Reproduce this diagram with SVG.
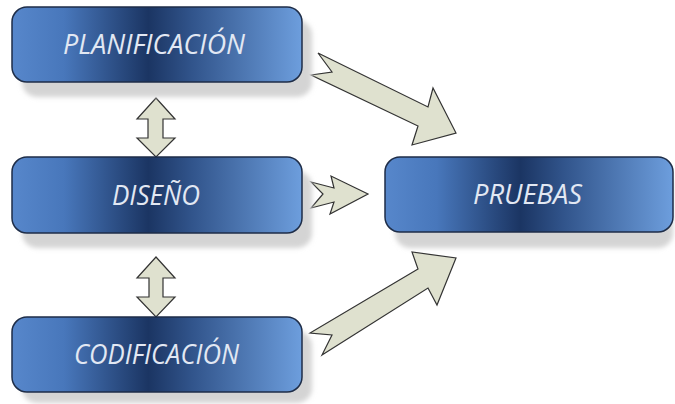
<svg xmlns="http://www.w3.org/2000/svg" width="675" height="404" viewBox="0 0 675 404">
<defs>
<linearGradient id="boxg" x1="0" y1="0" x2="1" y2="0">
<stop offset="0" stop-color="#5787cb"/>
<stop offset="0.18" stop-color="#4877bb"/>
<stop offset="0.47" stop-color="#1b3563"/>
<stop offset="0.62" stop-color="#31548b"/>
<stop offset="1" stop-color="#6d9edd"/>
</linearGradient>
<filter id="blur" x="-10%" y="-20%" width="120%" height="140%">
<feGaussianBlur stdDeviation="2.5"/>
</filter>
<style>
.shadow{fill:#d4d4d4;filter:url(#blur)}
.box{fill:url(#boxg);stroke:#1e2d48;stroke-width:1.5}
.lbl{font-family:"Open Sans","Liberation Sans",sans-serif;font-style:italic;font-size:28px;fill:#e2e8f3;text-anchor:middle}
.arr{fill:#dfe1cf;stroke:#333333;stroke-width:1.2;stroke-linejoin:miter}
</style>
</defs>
<rect width="675" height="404" fill="#ffffff"/>

<g id="connectors">
<path class="arr" d="M156,98 L175,119 L163,119 L163,138 L175,138 L156,157 L137,138 L148,138 L148,119 L137,119 Z"/>
<path class="arr" d="M156,257 L175,278 L163,278 L163,297 L175,297 L156,317 L137,297 L149,297 L149,278 L137,278 Z"/>
<path class="arr" d="M318,53 L428,107 L433,88 L456,133 L412,145 L418,126 L311,75 L332,72 Z"/>
<path class="arr" d="M311,182 L334,188 L331,176 L368,194 L330,214 L334,202 L311,208 L323,194 Z"/>
<path class="arr" d="M322,355 L428,288 L437,305 L456,258 L412,252 L418,269 L310,333 L332,335 Z"/>
</g>

<g id="planificacion">
<rect class="shadow" x="22" y="20" width="290" height="77" rx="15"/>
<rect class="box" x="12" y="7" width="290" height="75" rx="15"/>
<text class="lbl" x="154" y="54" textLength="182" lengthAdjust="spacingAndGlyphs">PLANIFICACIÓN</text>
</g>

<g id="diseno">
<rect class="shadow" x="22" y="171" width="290" height="77" rx="15"/>
<rect class="box" x="12" y="157" width="290" height="76" rx="15"/>
<text class="lbl" x="156" y="205" textLength="88" lengthAdjust="spacingAndGlyphs">DISEÑO</text>
</g>

<g id="pruebas">
<rect class="shadow" x="395" y="171" width="278" height="77" rx="15"/>
<rect class="box" x="385" y="157" width="288" height="75" rx="15"/>
<text class="lbl" x="527.5" y="204" textLength="109" lengthAdjust="spacingAndGlyphs">PRUEBAS</text>
</g>

<g id="codificacion">
<rect class="shadow" x="22" y="331" width="290" height="72" rx="15"/>
<rect class="box" x="12" y="317" width="290" height="75" rx="15"/>
<text class="lbl" x="156.5" y="364" textLength="165" lengthAdjust="spacingAndGlyphs">CODIFICACIÓN</text>
</g>
</svg>
